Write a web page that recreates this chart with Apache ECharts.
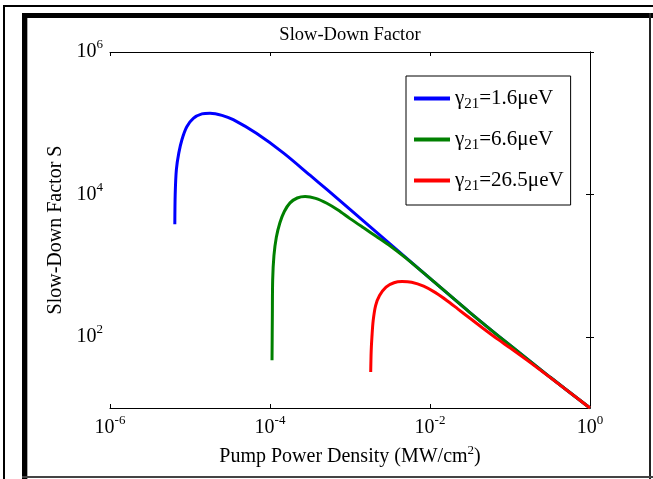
<!DOCTYPE html>
<html>
<head>
<meta charset="utf-8">
<script src="https://cdn.jsdelivr.net/npm/echarts@6/dist/echarts.min.js"></script>
<style>
  html, body { margin: 0; padding: 0; background: #fff; }
  #main { width: 653px; height: 479px; }
</style>
</head>
<body>
<div id="main"></div>
<script>
// pump power density (MW/cm^2) and slow-down factor
var blueP = [6.46e-6, 6.53e-6, 6.76e-6, 7.24e-6, 7.94e-6, 9.12e-6, 1.10e-5, 1.41e-5, 1.78e-5, 2.51e-5, 3.47e-5, 6.76e-5, 1.48e-4, 3.16e-4, 5.13e-4, 1e-3, 3.16e-3, 1e-2, 3.16e-2, 0.1, 0.316, 1];
var blueS = [3800, 10000, 22400, 38000, 59000, 89000, 117000, 135000, 138000, 129000, 112000, 72000, 38000, 18600, 11750, 6170, 2020, 661, 219, 76, 27.2, 10];

var greenP = [1.06e-4, 1.07e-4, 1.08e-4, 1.12e-4, 1.20e-4, 1.33e-4, 1.51e-4, 1.78e-4, 2.19e-4, 2.75e-4, 3.72e-4, 5.13e-4, 7.08e-4, 1e-3, 1.48e-3, 2.14e-3, 3.16e-3, 5.01e-3, 1e-2, 3.16e-2, 0.1, 0.316, 1];
var greenS = [47, 200, 630, 1380, 2500, 4000, 5750, 7600, 8900, 9330, 8800, 7500, 6030, 4570, 3390, 2570, 1905, 1274, 661, 219, 76, 27.2, 10];

var redP = [1.815e-3, 1.84e-3, 1.88e-3, 1.95e-3, 2.09e-3, 2.34e-3, 2.82e-3, 3.55e-3, 4.47e-3, 5.89e-3, 8.32e-3, 1.17e-2, 1.62e-2, 2.24e-2, 3.16e-2, 4.68e-2, 7.08e-2, 0.1, 0.178, 0.316, 1];
var redS = [32, 63, 100, 170, 275, 380, 500, 575, 596, 582, 513, 417, 324, 245, 182, 130, 92, 70, 43.7, 26.9, 10];

var gammaVals = ['1.6', '6.6', '26.5'];   // gamma_21 in ueV
var xTicks = [-6, -4, -2, 0];              // powers of ten
var yTicks = [2, 4, 6];

var myChart = echarts.init(document.getElementById('main'));
var font = "'Liberation Serif', 'Times New Roman', serif";

function toLog(P, S) {
	return P.map(function (p, i) {
		return [Math.log10(p), Math.log10(S[i])];
	});
}

function powLabel(v) {
	return '{b|10}{s|' + v + '}';
}

var powRich = {
	b: { fontSize: 20, fontFamily: font, color: '#000', lineHeight: 26 },
	s: { fontSize: 13, fontFamily: font, color: '#000', padding: [0, 0, 14, 0] }
};

var seriesNames = gammaVals.map(function (g) { return 'γ21=' + g + 'μeV'; });
var colors = ['#0000ff', '#008000', '#ff0000'];
var allData = [toLog(blueP, blueS), toLog(greenP, greenS), toLog(redP, redS)];

var series = allData.map(function (d, i) {
	return {
		name: seriesNames[i],
		type: 'line',
		data: d,
		symbol: 'none',
		smooth: 0.3,
		lineStyle: { width: 3, color: colors[i] },
		itemStyle: { color: colors[i] },
		z: 3 + i
	};
});

var tickStyle = { show: true, inside: true, length: 4, lineStyle: { color: '#000', width: 1 } };
var lineStyle = { show: true, lineStyle: { color: '#000', width: 1 } };

var option = {
	animation: false,
	color: colors,
	textStyle: { fontFamily: font },
	title: {
		text: 'Slow-Down Factor',
		left: 350,
		top: 26,
		textAlign: 'center',
		padding: 0,
		textStyle: { fontFamily: font, fontSize: 18.5, fontWeight: 'normal', color: '#000' }
	},
	grid: { left: 110, top: 52, width: 480, height: 356, containLabel: false },
	legend: {
		orient: 'vertical',
		left: 406,
		top: 76,
		padding: [12, 7, 11, 8],
		itemGap: 17,
		itemWidth: 36,
		itemHeight: 4,
		icon: 'rect',
		borderColor: '#000',
		borderWidth: 1,
		backgroundColor: '#fff',
		data: seriesNames,
		formatter: function (name) {
			var g = gammaVals[seriesNames.indexOf(name)];
			return '{g|γ}{sub|21}{g|=' + g + 'μeV}';
		},
		textStyle: {
			fontFamily: font,
			rich: {
				g: { fontSize: 21, fontFamily: font, color: '#000', lineHeight: 24 },
				sub: { fontSize: 15, fontFamily: font, color: '#000', padding: [12, 0, 0, 0] }
			}
		}
	},
	xAxis: [{
		type: 'value',
		min: -6,
		max: 0,
		position: 'bottom',
		axisLine: lineStyle,
		axisTick: Object.assign({ customValues: xTicks }, tickStyle),
		splitLine: { show: false },
		axisLabel: {
			customValues: xTicks,
			margin: 6,
			formatter: powLabel,
			rich: powRich
		},
		name: '{a|Pump Power Density (MW/cm}{s|2}{a|)}',
		nameLocation: 'middle',
		nameGap: 36,
		nameTextStyle: {
			rich: {
				a: { fontSize: 20, fontFamily: font, color: '#000', lineHeight: 24 },
				s: { fontSize: 13, fontFamily: font, color: '#000', padding: [0, 0, 13, 0] }
			}
		}
	}, {
		type: 'value',
		min: -6,
		max: 0,
		position: 'top',
		axisLine: lineStyle,
		axisTick: Object.assign({ customValues: xTicks }, tickStyle),
		axisLabel: { show: false },
		splitLine: { show: false }
	}],
	yAxis: [{
		type: 'value',
		min: 1,
		max: 6,
		position: 'left',
		axisLine: lineStyle,
		axisTick: Object.assign({ customValues: yTicks }, tickStyle),
		splitLine: { show: false },
		axisLabel: {
			customValues: yTicks,
			margin: 7,
			formatter: powLabel,
			rich: powRich
		},
		name: 'Slow-Down Factor S',
		nameLocation: 'middle',
		nameRotate: 90,
		nameGap: 31,
		nameTextStyle: { fontFamily: font, fontSize: 20, color: '#000' }
	}, {
		type: 'value',
		min: 1,
		max: 6,
		position: 'right',
		axisLine: lineStyle,
		axisTick: Object.assign({ customValues: yTicks }, tickStyle),
		axisLabel: { show: false },
		splitLine: { show: false }
	}],
	graphic: [
		// outer thin L and thick frame around the figure
		{ type: 'rect', shape: { x: 3, y: 5, width: 650, height: 2 }, style: { fill: '#000' } },
		{ type: 'rect', shape: { x: 3, y: 5, width: 2, height: 474 }, style: { fill: '#000' } },
		{ type: 'rect', shape: { x: 22, y: 13, width: 631, height: 5 }, style: { fill: '#000' } },
		{ type: 'rect', shape: { x: 22, y: 13, width: 5, height: 466 }, style: { fill: '#000' } },
		{ type: 'rect', shape: { x: 27, y: 18, width: 1, height: 461 }, style: { fill: '#aaa' } },
		{ type: 'rect', shape: { x: 649, y: 13, width: 2, height: 466 }, style: { fill: '#222' } },
		{ type: 'rect', shape: { x: 22, y: 476, width: 631, height: 2 }, style: { fill: '#444' } }
	],
	series: series
};

myChart.setOption(option);
</script>
</body>
</html>
